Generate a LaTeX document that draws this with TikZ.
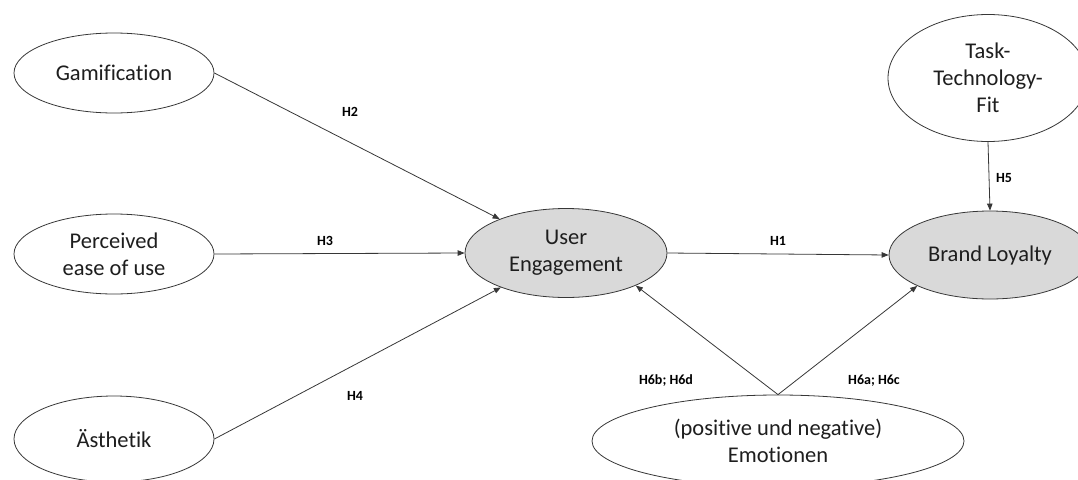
\documentclass[tikz,border=0pt]{standalone}
\usepackage{fontspec}
\setmainfont{Carlito}[Ligatures=NoCommon]
\usetikzlibrary{shapes.geometric,arrows.meta}
\definecolor{linegray}{RGB}{55,55,55}
\definecolor{textgray}{RGB}{30,30,30}
\definecolor{construct}{RGB}{217,217,217}
\tikzset{
  latent/.style={ellipse, draw=linegray, line width=0.8pt, fill=white,
    inner sep=0pt, align=center, text=textgray,
    font=\fontsize{22.5}{27}\selectfont},
  core/.style={latent, fill=construct},
  path/.style={draw=linegray, line width=0.8pt,
    -{Triangle[length=7pt,width=5.5pt]}},
  hyp/.style={font=\fontsize{14}{16}\bfseries\selectfont, text=black}
}
\begin{document}
\begin{tikzpicture}[x=1pt,y=-1pt]
  \useasboundingbox (0,0) rectangle (1078,479);
  \clip (0,0) rectangle (1078,479);

  % exogenous constructs
  \node[latent, minimum width=200pt, minimum height=80pt] (gam) at (114,73) {Gamification};
  \node[latent, minimum width=200pt, minimum height=80pt] (peou) at (114,254) {Perceived\\ease of use};
  \node[latent, minimum width=200pt, minimum height=86pt] (aes) at (114,439) {Ästhetik};
  \node[latent, minimum width=200pt, minimum height=127pt] (ttf) at (988,78) {Task-\\Technology-\\Fit};
  \node[latent, minimum width=372pt, minimum height=92pt] (emo) at (778,441) {(positive und negative)\\Emotionen};

  % endogenous constructs
  \node[core, minimum width=202pt, minimum height=89pt] (ue) at (566,253) {User\\Engagement};
  \node[core, minimum width=202pt, minimum height=88pt] (bl) at (990,255) {Brand Loyalty};

  % hypothesised paths
  \draw[path] (gam.east) -- (ue);
  \draw[path] (peou.east) -- (ue.west);
  \draw[path] (aes.east) -- (ue);
  \draw[path] (ue.east) -- (bl.west);
  \draw[path] (ttf.south) -- (bl.north);
  \draw[path] (emo.north) -- (ue.-25);
  \draw[path] (emo.north) -- (bl.203);

  % hypothesis labels
  \node[hyp] (h2) at (350,112) {H2};
  \node[hyp] (h3) at (325,241) {H3};
  \node[hyp] (h4) at (355,396) {H4};
  \node[hyp] (h1) at (778,241) {H1};
  \node[hyp] (h5) at (1004,178) {H5};
  \node[hyp] (h6bd) at (666,381) {H6b; H6d};
  \node[hyp] (h6ac) at (874,381) {H6a; H6c};
\end{tikzpicture}
\end{document}
